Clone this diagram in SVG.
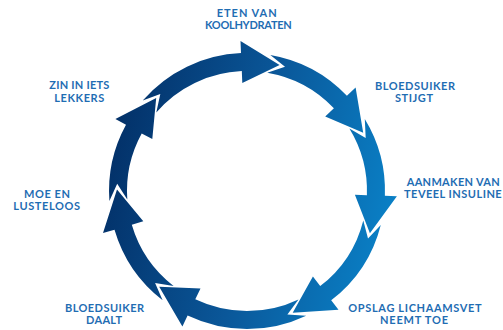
<svg xmlns="http://www.w3.org/2000/svg" width="503" height="330" viewBox="0 0 503 330">
<defs>
<linearGradient id="ring" gradientUnits="userSpaceOnUse" x1="110" y1="170" x2="390" y2="230">
<stop offset="0" stop-color="#03326a"/>
<stop offset="0.5" stop-color="#0a5799"/>
<stop offset="1" stop-color="#0a80c6"/>
</linearGradient>
<style>
.lbl{font-family:Lato,"Liberation Sans",sans-serif;font-weight:bold;font-size:11px;fill:#1f6db3}
.arr{fill:url(#ring)}
</style>
</defs>
<rect width="503" height="330" fill="#ffffff"/>
<g id="connectors">
<path class="arr" d="M142.7,100.6 A138,138 0 0 1 241.0,53.1 L240.5,41.1 L279.6,65.1 L242.3,83.1 L241.8,71.1 A120,120 0 0 0 156.3,112.4 L160.3,94.1 Z"/>
<path class="arr" d="M270.3,55.0 A138,138 0 0 1 346.9,95.8 L355.6,87.6 L363.2,132.8 L325.2,116.5 L333.9,108.2 A120,120 0 0 0 267.2,72.7 L285.0,66.7 Z"/>
<path class="arr" d="M364.8,119.1 A138,138 0 0 1 384.9,195.8 L396.9,196.2 L369.9,233.3 L354.9,194.8 L366.9,195.2 A120,120 0 0 0 349.4,128.5 L365.7,137.9 Z"/>
<path class="arr" d="M380.8,224.9 A138,138 0 0 1 331.2,300.3 L338.5,309.8 L292.7,312.7 L312.9,276.6 L320.2,286.1 A120,120 0 0 0 363.3,220.4 L368.0,238.6 Z"/>
<path class="arr" d="M306.2,315.7 A138,138 0 0 1 187.6,315.6 L182.4,326.4 L159.2,286.8 L200.5,288.5 L195.3,299.3 A120,120 0 0 0 298.5,299.4 L287.4,314.6 Z"/>
<path class="arr" d="M162.6,300.2 A138,138 0 0 1 114.5,229.7 L103.0,233.1 L117.0,189.4 L143.3,221.3 L131.8,224.7 A120,120 0 0 0 173.6,285.9 L155.1,282.9 Z"/>
<path class="arr" d="M109.4,200.9 A138,138 0 0 1 126.0,124.7 L115.4,119.0 L156.2,98.0 L152.3,139.1 L141.7,133.4 A120,120 0 0 0 127.3,199.6 L117.2,183.7 Z"/>
</g>
<g id="eten">
<text class="lbl" x="216.7" y="17.3" textLength="60" lengthAdjust="spacing">ETEN VAN</text>
<text class="lbl" x="205" y="29.3" textLength="86.7" lengthAdjust="spacing">KOOLHYDRATEN</text>
</g>
<g id="stijgt">
<text class="lbl" x="375" y="90" textLength="80" lengthAdjust="spacing">BLOEDSUIKER</text>
<text class="lbl" x="395" y="102" textLength="38" lengthAdjust="spacing">STIJGT</text>
</g>
<g id="insuline">
<text class="lbl" x="406.7" y="185.5" textLength="93" lengthAdjust="spacing">AANMAKEN VAN</text>
<text class="lbl" x="404" y="197.5" textLength="97.7" lengthAdjust="spacing">TEVEEL INSULINE</text>
</g>
<g id="opslag">
<text class="lbl" x="348.3" y="311.7" textLength="133.4" lengthAdjust="spacing">OPSLAG LICHAAMSVET</text>
<text class="lbl" x="380" y="323.7" textLength="68" lengthAdjust="spacing">NEEMT TOE</text>
</g>
<g id="daalt">
<text class="lbl" x="65" y="312.3" textLength="79" lengthAdjust="spacing">BLOEDSUIKER</text>
<text class="lbl" x="86" y="324.3" textLength="36" lengthAdjust="spacing">DAALT</text>
</g>
<g id="moe">
<text class="lbl" x="24" y="197.5" textLength="46" lengthAdjust="spacing">MOE EN</text>
<text class="lbl" x="13.3" y="210" textLength="66.7" lengthAdjust="spacing">LUSTELOOS</text>
</g>
<g id="zin">
<text class="lbl" x="49.3" y="89.3" textLength="60" lengthAdjust="spacing">ZIN IN IETS</text>
<text class="lbl" x="54.3" y="101.7" textLength="50" lengthAdjust="spacing">LEKKERS</text>
</g>
</svg>
